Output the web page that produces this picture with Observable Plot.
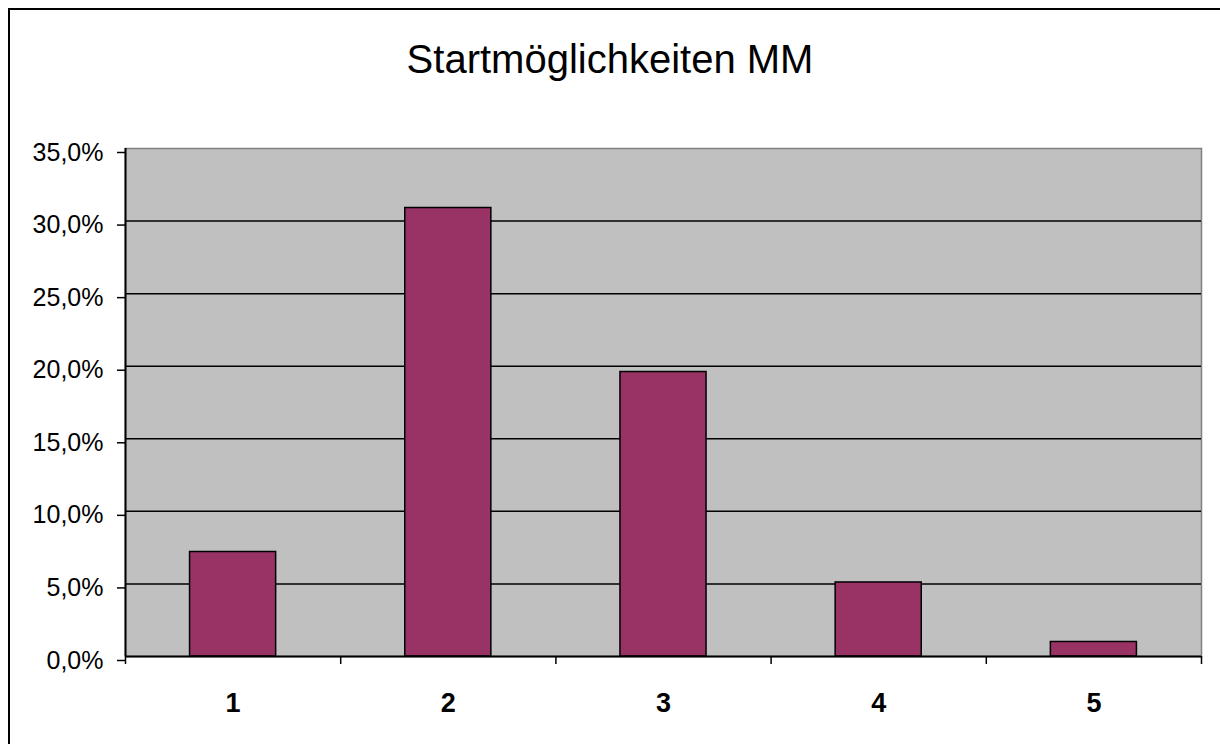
<!DOCTYPE html>
<html>
<head>
<meta charset="utf-8">
<script src="https://cdn.jsdelivr.net/npm/d3@7"></script>
<script src="https://cdn.jsdelivr.net/npm/@observablehq/plot@0.6"></script>
<style>
  html, body { margin: 0; padding: 0; background: #fff; overflow: hidden; }
  #wrap { position: relative; width: 1220px; height: 744px; overflow: hidden; font-family: "Liberation Sans", Arial, sans-serif; }
  #border { position: absolute; left: 8px; top: 8px; width: 1400px; height: 900px; border-left: 2px solid #000; border-top: 2px solid #000; pointer-events: none; }
  #title { height: 100px; box-sizing: border-box; padding-top: 39px; text-align: center; font-size: 40px; line-height: 40px; color: #000; }
  #chart svg { display: block; }
</style>
</head>
<body>
<div id="wrap">
  <div id="title">Startmöglichkeiten MM</div>
  <div id="chart"></div>
  <div id="border"></div>
</div>
<script>
const categories = [1, 2, 3, 4, 5];
const shares = [7.2, 30.9, 19.6, 5.1, 1.0];
const yTicks = [0, 5, 10, 15, 20, 25, 30, 35];
const boundaryTicks = [0.5, 1.5, 2.5, 3.5, 4.5, 5.5];
const barHalfWidth = 0.2;

const data = categories.map((c, i) => ({cat: c, value: shares[i]}));
const fmt = d => d.toFixed(1).replace(".", ",") + "%";

const plot = Plot.plot({
  width: 1220,
  height: 644,
  marginLeft: 125,
  marginRight: 19,
  marginTop: 48,
  marginBottom: 88,
  style: {fontFamily: "'Liberation Sans', Arial, sans-serif", background: "transparent", color: "#000"},
  x: {type: "linear", domain: [0.5, 5.5]},
  y: {domain: [0, 35]},
  marks: [
    Plot.frame({fill: "#c0c0c0", stroke: "#808080", strokeWidth: 1.5}),
    Plot.ruleY(yTicks.filter(d => d > 0 && d < 35), {stroke: "#000", strokeWidth: 1.5}),
    Plot.rectY(data, {x1: d => d.cat - barHalfWidth, x2: d => d.cat + barHalfWidth, y1: 0, y2: "value", fill: "#993366", stroke: "#000", strokeWidth: 1.5}),
    Plot.axisY({ticks: yTicks, tickFormat: fmt, tickSize: 8, tickPadding: 14, fontSize: 25, dy: 4, strokeWidth: 1.5, label: null}),
    Plot.ruleX([0.5], {stroke: "#000", strokeWidth: 2}),
    Plot.axisX({ticks: boundaryTicks, tickFormat: () => "", tickSize: 8, strokeWidth: 1.5, label: null}),
    Plot.axisX({ticks: categories, tickFormat: d => String(d), tickSize: 0, tickPadding: 36, fontSize: 27, fontWeight: "bold", label: null}),
    Plot.ruleY([0], {stroke: "#000", strokeWidth: 2})
  ]
});
document.getElementById("chart").appendChild(plot);
</script>
</body>
</html>
